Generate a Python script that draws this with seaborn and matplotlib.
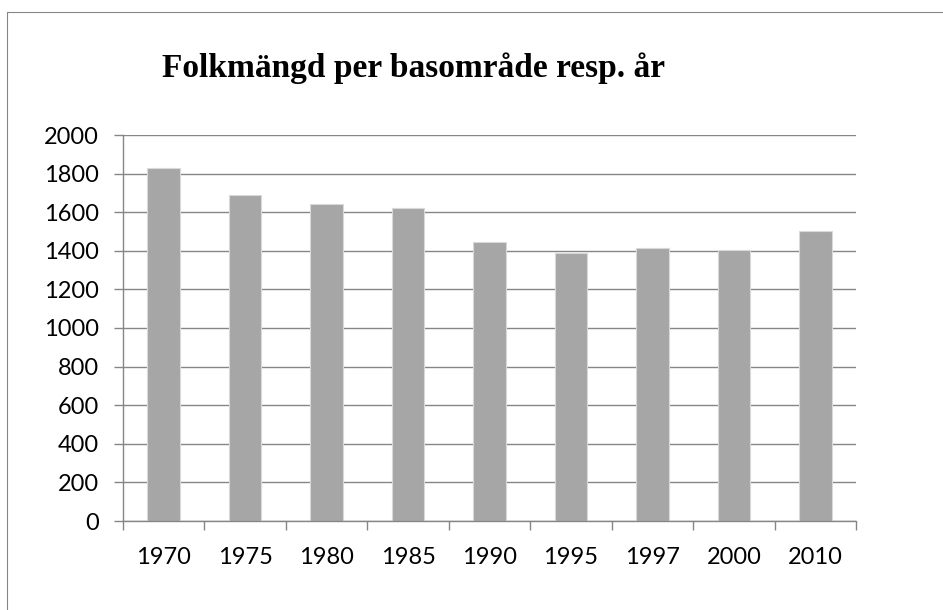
import matplotlib
matplotlib.use("Agg")
import matplotlib.pyplot as plt
import seaborn as sns
import pandas as pd
from matplotlib.lines import Line2D

# data
years = ["1970", "1975", "1980", "1985", "1990", "1995", "1997", "2000", "2010"]
population = [1831, 1688, 1642, 1621, 1447, 1391, 1412, 1403, 1505]
y_ticks = list(range(0, 2001, 200))
title = "Folkmängd per basområde resp. år"

df = pd.DataFrame({"year": years, "pop": population})

sns.set_style("white")
plt.rcParams["font.family"] = ["Lato", "DejaVu Sans"]
plt.rcParams["text.color"] = "black"

grid_col = "#868686"
bar_col = "#a6a6a6"

fig = plt.figure(figsize=(9.43, 6.10), dpi=100)
W, H = 943, 610
ax = fig.add_axes([123 / W, 1 - 521 / H, (856 - 123) / W, (521 - 135) / H])

sns.barplot(data=df, x="year", y="pop", order=years, color=bar_col,
            width=0.4, saturation=1, edgecolor="#d9d9d9", linewidth=0.8, ax=ax)

ax.set_xlim(-0.5, len(years) - 0.5)
ax.set_ylim(0, 2000)
ax.set_yticks(y_ticks)
ax.set_yticklabels([str(t) for t in y_ticks])
ax.set_xlabel("")
ax.set_ylabel("")

# horizontal gridlines
ax.yaxis.grid(True, color=grid_col, linewidth=1.0)
ax.xaxis.grid(False)
ax.set_axisbelow(True)

for side in ["top", "right"]:
    ax.spines[side].set_visible(False)
for side in ["left", "bottom"]:
    ax.spines[side].set_color(grid_col)
    ax.spines[side].set_linewidth(1.0)

# y ticks point outward, x ticks sit between categories
ax.tick_params(axis="y", direction="out", length=6.5, width=1.0, color=grid_col,
               labelsize=17, pad=11, left=True, labelcolor="black")
ax.set_xticks([i - 0.5 for i in range(len(years) + 1)], minor=True)
ax.tick_params(axis="x", which="major", length=0, labelsize=17, pad=19,
               labelcolor="black")
ax.tick_params(axis="x", which="minor", direction="out", length=6.5, width=1.0,
               color=grid_col, bottom=True)

fig.text(414 / W, 1 - 77 / H, title, ha="center", va="baseline", color="black",
         fontsize=24, fontweight="bold", family=["Liberation Serif", "DejaVu Serif"])

# outer chart frame (only left and top visible in the reference)
fig.add_artist(Line2D([7 / W, 7 / W], [0, 1 - 12 / H], color=grid_col, linewidth=0.8))
fig.add_artist(Line2D([7 / W, 1], [1 - 12 / H, 1 - 12 / H], color=grid_col, linewidth=0.8))

fig.savefig("out.png", dpi=100)
